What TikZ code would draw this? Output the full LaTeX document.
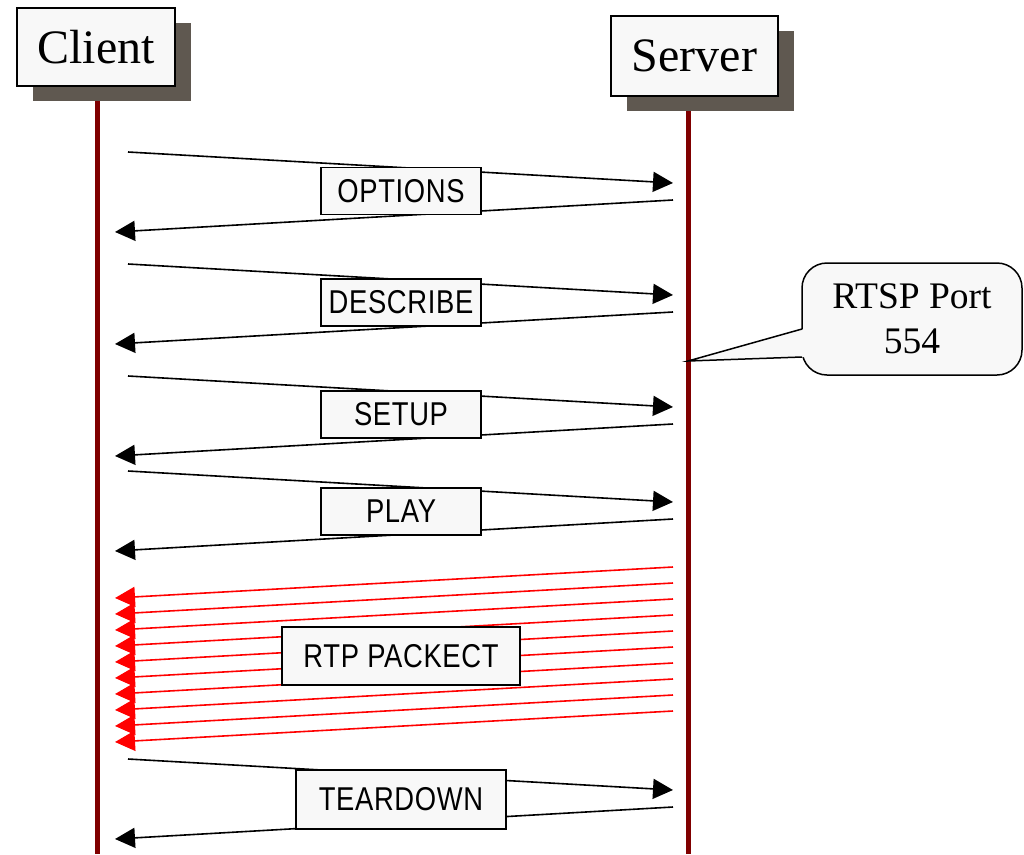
\documentclass[tikz,border=0pt]{standalone}
\usepackage{fontspec}
\setmainfont{Liberation Serif}
\newfontfamily\lblfont[FakeStretch=0.83,LetterSpace=2]{Liberation Sans}
\usetikzlibrary{arrows.meta,shadows,backgrounds}
\definecolor{life}{HTML}{800000}
\definecolor{shade}{HTML}{5F5850}
\definecolor{boxfill}{HTML}{F8F8F8}
\definecolor{rtp}{HTML}{FF0000}
\begin{document}
\begin{tikzpicture}[x=1pt,y=-1pt,
  actor/.style={draw=black, line width=2pt, fill=boxfill, inner sep=0pt,
    font=\fontsize{48}{50}\selectfont,
    drop shadow={shadow xshift=16pt, shadow yshift=-15pt, fill=shade, opacity=1}},
  msg/.style={draw=black, line width=1.6pt, -{Triangle[length=20pt,width=20pt]}},
  rtpmsg/.style={draw=rtp, line width=1.6pt, -{Triangle[length=20pt,width=20pt]}},
  lbl/.style={draw=black, line width=1.5pt, fill=boxfill, inner sep=0pt,
    font=\lblfont\fontsize{33}{36}\selectfont},
  lifeline/.style={draw=life, line width=5pt},
  callout/.style={draw=black, line width=1.5pt, fill=boxfill, rounded corners=25pt,
    inner sep=0pt, align=center, font=\fontsize{37.5}{45}\selectfont}]
\useasboundingbox (0,0) rectangle (1024,854);

% actors
\node[actor, minimum width=158pt, minimum height=78pt] (client) at (96,47) {Client};
\node[actor, minimum width=167pt, minimum height=80pt] (server) at (694.5,56) {Server};
\coordinate (cbot) at (97,854);
\coordinate (sbot) at (688,854);
\begin{scope}[on background layer]
  \draw[lifeline] (client.south -| cbot) -- (cbot);
  \draw[lifeline] (server.south -| sbot) -- (sbot);
\end{scope}

% request / response pairs
\foreach \n/\y/\lab/\w/\h/\ly in {
  opt/152/OPTIONS/160/47/191,
  desc/264/DESCRIBE/160/47/302.5,
  setup/376/SETUP/160/47/414.5,
  play/471/PLAY/160/47/511.5,
  tear/759/TEARDOWN/210/59/799.5} {
  \coordinate (\n-a) at (128,\y);
  \coordinate (\n-b) at (673,\y+31);
  \coordinate (\n-c) at (673,\y+48);
  \coordinate (\n-d) at (115,\y+80);
  \draw[msg] (\n-a) -- (\n-b);
  \draw[msg] (\n-c) -- (\n-d);
  \node[lbl, minimum width=\w pt, minimum height=\h pt] (\n) at (401,\ly) {\lab};
}

% RTP packets
\foreach \k in {0,...,9} {
  \coordinate (r\k-a) at (673,567+16*\k);
  \coordinate (r\k-b) at (115,598+16*\k);
  \draw[rtpmsg] (r\k-a) -- (r\k-b);
}
\node[lbl, minimum width=238pt, minimum height=58pt] (rtp) at (401,656) {RTP PACKECT};

% callout
\node[callout, minimum width=220pt, minimum height=112pt] (rtsp) at (912,319) {RTSP Port\\554};
\coordinate (port) at (688,361);
\fill[boxfill] (port) -- (804,329) -- (804,357) -- cycle;
\draw[line width=1.5pt] (802,329) -- (port) -- (802,357);
\end{tikzpicture}
\end{document}
